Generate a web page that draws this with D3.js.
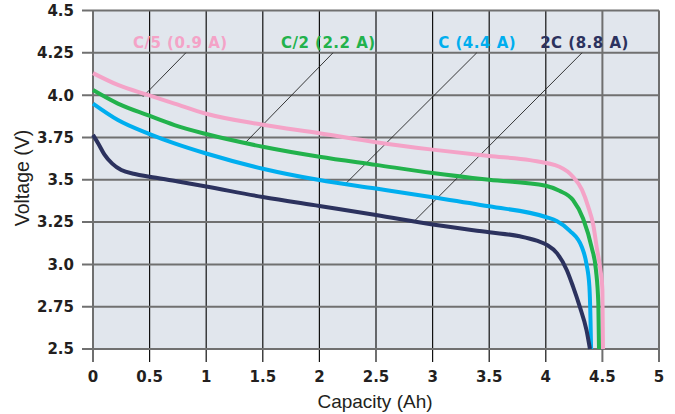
<!DOCTYPE html>
<html>
<head>
<meta charset="utf-8">
<script src="https://cdn.jsdelivr.net/npm/d3@7"></script>
<style>
  html, body { margin: 0; padding: 0; background: #fff; }
  svg { display: block; }
</style>
</head>
<body>
<svg id="chart" width="675" height="414"></svg>
<script>
// ---- Data ----
const xTicks = [0, 0.5, 1, 1.5, 2, 2.5, 3, 3.5, 4, 4.5, 5];
const xTickLabels = ["0", "0.5", "1", "1.5", "2", "2.5", "3", "3.5", "4", "4.5", "5"];
const yTicks = [2.5, 2.75, 3.0, 3.25, 3.5, 3.75, 4.0, 4.25, 4.5];
const yTickLabels = ["2.5", "2.75", "3.0", "3.25", "3.5", "3.75", "4.0", "4.25", "4.5"];

const seriesNames = ["C/5 (0.9 A)", "C/2 (2.2 A)", "C (4.4 A)", "2C (8.8 A)"];
const seriesColors = ["#f4a3c7", "#22b24c", "#00aeef", "#2c325e"];

const pinkC5 = [[0,4.13],[0.22,4.06],[0.49,4.0],[0.72,3.95],[1,3.89],[1.5,3.825],[2,3.775],[2.5,3.722],[3,3.678],[3.5,3.64],[3.86,3.616],[4.12,3.577],[4.24,3.518],[4.32,3.44],[4.375,3.34],[4.42,3.23],[4.45,3.1],[4.48,2.98],[4.5,2.85],[4.505,2.5]];
const greenC2 = [[0,4.03],[0.22,3.95],[0.49,3.88],[0.72,3.823],[1,3.77],[1.5,3.695],[2,3.636],[2.5,3.588],[3,3.54],[3.5,3.5],[4,3.465],[4.12,3.435],[4.24,3.38],[4.33,3.27],[4.405,3.1],[4.443,2.967],[4.464,2.77],[4.47,2.5]];
const blueC = [[0,3.95],[0.22,3.853],[0.5,3.77],[0.72,3.715],[1,3.655],[1.5,3.565],[2,3.498],[2.5,3.448],[3,3.397],[3.5,3.343],[4,3.28],[4.1,3.255],[4.21,3.2],[4.32,3.1],[4.36,3.0],[4.385,2.87],[4.395,2.67],[4.4,2.5]];
const navy2C = [[0,3.765],[0.05,3.71],[0.1,3.65],[0.17,3.595],[0.25,3.557],[0.37,3.534],[0.5,3.518],[0.75,3.49],[1,3.46],[1.5,3.398],[2,3.345],[2.5,3.292],[3,3.235],[3.5,3.19],[3.77,3.166],[3.92,3.14],[4.01,3.115],[4.1,3.065],[4.185,2.967],[4.24,2.87],[4.3,2.75],[4.36,2.61],[4.39,2.5]];
const seriesData = [pinkC5, greenC2, blueC, navy2C];

// label anchor (x, V) in data units, and leader lines [from, to]
const labelPos = [[0.353, 4.278], [1.66, 4.278], [3.05, 4.278], [3.95, 4.278]];
const leaderFrom = [[0.82, 4.25], [2.12, 4.25], [3.39, 4.25], [4.32, 4.25]];
const leaderTo = [[0.44, 3.99], [1.334, 3.711], [2.235, 3.479], [2.824, 3.246]];

// ---- Layout ----
const svg = d3.select("#chart");
const pLeft = 93, pRight = 659, pTop = 10.5, pBottom = 349;
const x = d3.scaleLinear().domain([0, 5]).range([pLeft, pRight]);
const y = d3.scaleLinear().domain([2.5, 4.5]).range([pBottom, pTop]);

svg.append("rect")
  .attr("x", pLeft).attr("y", pTop)
  .attr("width", pRight - pLeft).attr("height", pBottom - pTop)
  .attr("fill", "#e1e6ed");

// vertical grid lines (extend below as ticks)
svg.append("g").selectAll("line").data(xTicks).join("line")
  .attr("x1", d => x(d)).attr("x2", d => x(d))
  .attr("y1", pTop).attr("y2", pBottom + 13)
  .attr("stroke", d => (d === 0 || d >= 4.5) ? "#6f6f6f" : "#111")
  .attr("stroke-width", d => (d === 0 || d >= 4.5) ? 2 : 1.2);

// horizontal grid lines (extend left as ticks)
svg.append("g").selectAll("line").data(yTicks).join("line")
  .attr("x1", pLeft - 11).attr("x2", pRight)
  .attr("y1", d => y(d)).attr("y2", d => y(d))
  .attr("stroke", "#707070")
  .attr("stroke-width", 2);

// tick labels
const tickFont = "'DejaVu Sans', sans-serif";
svg.append("g").selectAll("text").data(yTicks).join("text")
  .attr("x", pLeft - 19)
  .attr("y", d => y(d))
  .attr("dy", "0.36em")
  .attr("text-anchor", "end")
  .attr("font-family", tickFont)
  .attr("font-weight", "bold")
  .attr("font-size", 15)
  .attr("fill", "#231f20")
  .text((d, i) => yTickLabels[i]);

svg.append("g").selectAll("text").data(xTicks).join("text")
  .attr("x", d => x(d))
  .attr("y", 382)
  .attr("text-anchor", "middle")
  .attr("font-family", tickFont)
  .attr("font-weight", "bold")
  .attr("font-size", 15)
  .attr("fill", "#231f20")
  .text((d, i) => xTickLabels[i]);

// axis titles
svg.append("text")
  .attr("x", (pLeft + pRight) / 2 - 1)
  .attr("y", 408)
  .attr("text-anchor", "middle")
  .attr("font-family", "'Liberation Sans', Arial, sans-serif")
  .attr("font-size", 19)
  .attr("fill", "#231f20")
  .text("Capacity (Ah)");

svg.append("text")
  .attr("transform", "translate(29,178) rotate(-90)")
  .attr("text-anchor", "middle")
  .attr("font-family", "'Liberation Sans', Arial, sans-serif")
  .attr("font-size", 19.5)
  .attr("fill", "#231f20")
  .text("Voltage (V)");

// leader lines
svg.append("g").selectAll("line").data(leaderFrom).join("line")
  .attr("x1", d => x(d[0])).attr("y1", d => y(d[1]))
  .attr("x2", (d, i) => x(leaderTo[i][0])).attr("y2", (d, i) => y(leaderTo[i][1]))
  .attr("stroke", "#222")
  .attr("stroke-width", 0.9);

// curves
const line = d3.line()
  .x(d => x(d[0])).y(d => y(d[1]))
  .curve(d3.curveMonotoneX);

svg.append("g").selectAll("path").data(seriesData).join("path")
  .attr("d", d => line(d))
  .attr("fill", "none")
  .attr("stroke", (d, i) => seriesColors[i])
  .attr("stroke-width", 4)
  .attr("stroke-linejoin", "round");

// series labels
svg.append("g").selectAll("text").data(seriesNames).join("text")
  .attr("x", (d, i) => x(labelPos[i][0]))
  .attr("y", (d, i) => y(labelPos[i][1]))
  .attr("font-family", tickFont)
  .attr("font-weight", "bold")
  .attr("font-size", 15)
  .attr("letter-spacing", 0.5)
  .attr("fill", (d, i) => seriesColors[i])
  .text(d => d);
</script>
</body>
</html>
